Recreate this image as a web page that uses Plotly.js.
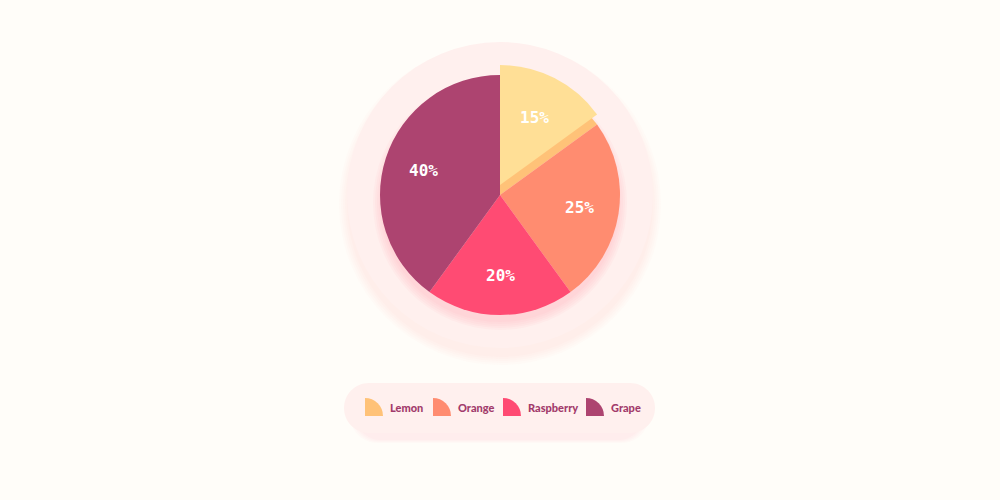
<!DOCTYPE html>
<html>
<head>
<meta charset="utf-8">
<script src="https://cdn.plot.ly/plotly-3.0.1.min.js"></script>
<style>
  html, body { margin: 0; padding: 0; background: #FFFDF9; }
  #chart { width: 1000px; height: 500px; }
</style>
</head>
<body>
<div id="chart"></div>
<script>
// chart data
const labels = ['Lemon', 'Orange', 'Raspberry', 'Grape'];
const shares = [15, 25, 20, 40];            // percent
const sliceColors = ['#FFC278', '#FF8C70', '#FF4B73', '#AD4470'];
const lemonTopColor = '#FFDF96';

// layout constants (pixels)
const W = 1000, H = 500;
const cx = 500, cy = 195;      // pie centre
const pieR = 120;
const plateR = 153;            // pale disc behind the pie
const lift = 10;               // lemon slice raised by this much
const labelR = 80;             // distance of the % labels from the centre
const legendIconX = [365, 433, 503, 586];   // bottom-left corner of each icon
const legendIconY = 416;
const iconR = 18;

// pixel -> paper helpers
const px = x => x / W;
const py = y => 1 - y / H;

function disc(x, y, r, color) {
    return {
        type: 'circle', xref: 'paper', yref: 'paper', layer: 'below',
        x0: px(x - r), x1: px(x + r), y0: py(y + r), y1: py(y - r),
        fillcolor: color, line: { width: 0 }
    };
}

// rounded pill as one path (bezier corners) so alpha does not double up
function pill(x0, y0, x1, y1, color) {
    let r = (y1 - y0) / 2, k = 0.5523 * r;
    let P = (x, y) => px(x) + ',' + py(y);
    let path = 'M' + P(x0 + r, y0) +
        ' L' + P(x1 - r, y0) +
        ' C' + P(x1 - r + k, y0) + ' ' + P(x1, y0 + r - k) + ' ' + P(x1, y0 + r) +
        ' C' + P(x1, y0 + r + k) + ' ' + P(x1 - r + k, y1) + ' ' + P(x1 - r, y1) +
        ' L' + P(x0 + r, y1) +
        ' C' + P(x0 + r - k, y1) + ' ' + P(x0, y1 - r + k) + ' ' + P(x0, y0 + r) +
        ' C' + P(x0, y0 + r - k) + ' ' + P(x0 + r - k, y0) + ' ' + P(x0 + r, y0) + ' Z';
    return {
        type: 'path', xref: 'paper', yref: 'paper', layer: 'below',
        path: path, fillcolor: color, line: { width: 0 }
    };
}

let shapes = [];

// faint shadow under the plate
for (let k = 0; k < 5; k++) {
    shapes.push(disc(cx, cy + 9, plateR + 8 - k * 2, 'rgba(255,190,205,0.05)'));
}
shapes.push(disc(cx, cy, plateR, '#FFF0EE'));

// glow under the pie
for (let k = 0; k < 5; k++) {
    shapes.push(disc(cx, cy + 8, pieR + 7 - k * 2, 'rgba(255,110,140,0.045)'));
}

// legend pill and its shadow
for (let k = 0; k < 4; k++) {
    shapes.push(pill(350 + k * 2, 388 + k, 649 - k * 2, 443 - k, 'rgba(255,190,205,0.06)'));
}
shapes.push(pill(344, 383, 655, 433, '#FFF0EE'));

const pieDomain = {
    x: [px(cx - pieR), px(cx + pieR)],
    y: [py(cy + pieR), py(cy - pieR)]
};

const common = {
    type: 'pie',
    labels: labels,
    values: shares,
    sort: false,
    direction: 'clockwise',
    rotation: 0,
    showlegend: false,
    hoverinfo: 'skip',
    textinfo: 'none'
};

// base pie: lemon shows only as its darker side
let basePie = Object.assign({}, common, {
    domain: pieDomain,
    marker: { colors: sliceColors, line: { width: 0 } }
});

// raised lemon slice
let lemonPie = Object.assign({}, common, {
    domain: { x: pieDomain.x, y: [pieDomain.y[0] + lift / H, pieDomain.y[1] + lift / H] },
    marker: { colors: shares.map((v, i) => i === 0 ? lemonTopColor : 'rgba(0,0,0,0)'), line: { width: 0 } }
});

let traces = [basePie, lemonPie];
let annotations = [];

// percent labels on each slice bisector
let total = shares.reduce((a, b) => a + b, 0);
let cum = 0;
shares.forEach((v, i) => {
    let mid = (90 - (cum + v / 2) / total * 360) * Math.PI / 180;
    cum += v;
    let oy = i === 0 ? cy - lift : cy;
    let r = i === 0 ? labelR - 4 : labelR;
    annotations.push({
        xref: 'paper', yref: 'paper',
        x: px(cx + r * Math.cos(mid)), y: py(oy - r * Math.sin(mid)),
        xanchor: 'center', yanchor: 'middle',
        text: v + '%', showarrow: false,
        font: { family: 'DejaVu Sans Mono', size: 16, color: '#FFFFFF', weight: 'bold' }
    });
});

// legend: quarter-wedge icons drawn as tiny pies
labels.forEach((name, i) => {
    let x0 = legendIconX[i];
    traces.push({
        type: 'pie',
        values: [1, 3],
        sort: false,
        direction: 'clockwise',
        rotation: 0,
        showlegend: false,
        hoverinfo: 'skip',
        textinfo: 'none',
        domain: {
            x: [px(x0 - iconR), px(x0 + iconR)],
            y: [py(legendIconY + iconR), py(legendIconY - iconR)]
        },
        marker: { colors: [sliceColors[i], 'rgba(0,0,0,0)'], line: { width: 0 } }
    });
    annotations.push({
        xref: 'paper', yref: 'paper',
        x: px(x0 + iconR + 5), y: py(legendIconY - iconR / 2),
        xanchor: 'left', yanchor: 'middle',
        text: name, showarrow: false,
        font: { family: 'Lato', size: 11, color: '#A23B6B', weight: 900 }
    });
});

let layout = {
    width: W,
    height: H,
    margin: { l: 0, r: 0, t: 0, b: 0 },
    paper_bgcolor: '#FFFDF9',
    plot_bgcolor: '#FFFDF9',
    shapes: shapes,
    annotations: annotations
};

Plotly.newPlot('chart', traces, layout, { staticPlot: true, displayModeBar: false });
</script>
</body>
</html>
